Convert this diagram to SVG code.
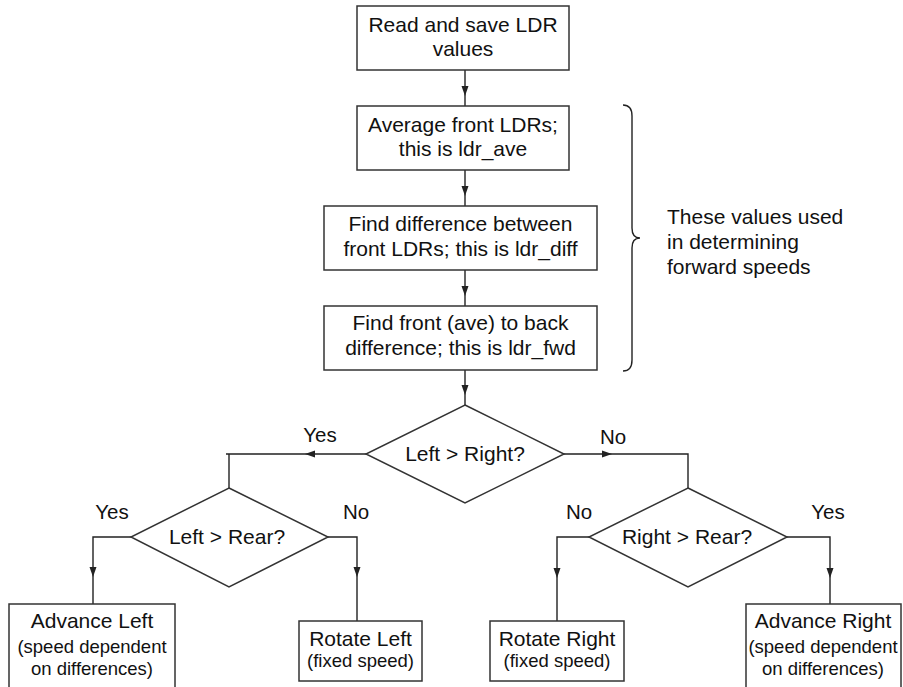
<svg xmlns="http://www.w3.org/2000/svg" xmlns:xlink="http://www.w3.org/1999/xlink" width="903" height="687" viewBox="0 0 903 687">
<style>
  .box { fill: #fff; stroke: #333; stroke-width: 1.5; }
  .line { fill: none; stroke: #222; stroke-width: 1.4; }
  .t { font-family: "Liberation Sans", Arial, sans-serif; font-size: 21px; fill: #111; text-anchor: middle; }
  .s { font-family: "Liberation Sans", Arial, sans-serif; font-size: 18.5px; fill: #111; text-anchor: middle; }
  .lbl { font-family: "Liberation Sans", Arial, sans-serif; font-size: 20.5px; fill: #111; text-anchor: middle; }
  .note { font-family: "Liberation Sans", Arial, sans-serif; font-size: 21px; fill: #111; }
  .ah { fill: #222; }
</style>
<defs>
  <path id="ah" class="ah" d="M0,0 L-3.5,-10 L3.5,-10 Z"/>
</defs>
<rect width="903" height="687" fill="#fff"/>

<g id="connectors">
  <path class="line" d="M465,70 L465,106"/>
  <path class="line" d="M465,170 L465,206"/>
  <path class="line" d="M465,270 L465,306"/>
  <path class="line" d="M465,370 L465,405"/>
  <path class="line" d="M366,454 L226,454 M229,454 L229,488"/>
  <path class="line" d="M564,454 L688,454 L688,488"/>
  <path class="line" d="M131,537 L93,537 L93,604"/>
  <path class="line" d="M328,537 L357,537 L357,621"/>
  <path class="line" d="M589,537 L557,537 L557,621"/>
  <path class="line" d="M787,537 L830,537 L830,604"/>
  <use xlink:href="#ah" transform="translate(465,96)"/>
  <use xlink:href="#ah" transform="translate(465,196)"/>
  <use xlink:href="#ah" transform="translate(465,296)"/>
  <use xlink:href="#ah" transform="translate(465,395)"/>
  <use xlink:href="#ah" transform="translate(305,454) rotate(90)"/>
  <use xlink:href="#ah" transform="translate(612,454) rotate(-90)"/>
  <use xlink:href="#ah" transform="translate(93,577)"/>
  <use xlink:href="#ah" transform="translate(357,577)"/>
  <use xlink:href="#ah" transform="translate(557,578)"/>
  <use xlink:href="#ah" transform="translate(830,578)"/>
  <text class="lbl" x="320" y="442">Yes</text>
  <text class="lbl" x="613" y="444">No</text>
  <text class="lbl" x="112" y="519">Yes</text>
  <text class="lbl" x="356" y="519">No</text>
  <text class="lbl" x="579" y="519">No</text>
  <text class="lbl" x="828" y="519">Yes</text>
</g>

<g id="read">
  <rect class="box" x="357" y="6" width="212" height="64"/>
  <text class="t" x="463" y="32">Read and save LDR</text>
  <text class="t" x="463" y="56">values</text>
</g>
<g id="average">
  <rect class="box" x="357" y="106" width="212" height="64"/>
  <text class="t" x="463" y="132">Average front LDRs;</text>
  <text class="t" x="463" y="156">this is ldr_ave</text>
</g>
<g id="diff">
  <rect class="box" x="324" y="206" width="273" height="64"/>
  <text class="t" x="460.5" y="231">Find difference between</text>
  <text class="t" x="460.5" y="256">front LDRs; this is ldr_diff</text>
</g>
<g id="fwd">
  <rect class="box" x="324" y="306" width="273" height="64"/>
  <text class="t" x="460.5" y="330">Find front (ave) to back</text>
  <text class="t" x="460.5" y="355">difference; this is ldr_fwd</text>
</g>
<g id="brace">
  <path class="line" d="M623,105 Q632,105 632,116 L632,228 Q632,238 640,238 Q632,238 632,248 L632,360 Q632,371 623,371"/>
  <text class="note" x="667" y="224">These values used</text>
  <text class="note" x="667" y="249">in determining</text>
  <text class="note" x="667" y="274">forward speeds</text>
</g>
<g id="leftRight">
  <polygon class="box" points="465,405 564,454 465,503 366,454"/>
  <text class="t" x="465" y="461">Left &gt; Right?</text>
</g>
<g id="leftRear">
  <polygon class="box" points="229,488 328,537 229,587 131,537"/>
  <text class="t" x="227" y="544">Left &gt; Rear?</text>
</g>
<g id="rightRear">
  <polygon class="box" points="688,488 787,537 688,587 589,537"/>
  <text class="t" x="687" y="544">Right &gt; Rear?</text>
</g>
<g id="advanceLeft">
  <rect class="box" x="9" y="604" width="166" height="100"/>
  <text class="t" x="92" y="628">Advance Left</text>
  <text class="s" x="92" y="653">(speed dependent</text>
  <text class="s" x="92" y="675">on differences)</text>
</g>
<g id="rotateLeft">
  <rect class="box" x="299" y="621" width="123" height="60"/>
  <text class="t" x="360.5" y="646">Rotate Left</text>
  <text class="s" x="360.5" y="667">(fixed speed)</text>
</g>
<g id="rotateRight">
  <rect class="box" x="490" y="621" width="134" height="60"/>
  <text class="t" x="557" y="646">Rotate Right</text>
  <text class="s" x="557" y="667">(fixed speed)</text>
</g>
<g id="advanceRight">
  <rect class="box" x="746" y="604" width="155" height="100"/>
  <text class="t" x="823" y="628">Advance Right</text>
  <text class="s" x="823" y="653">(speed dependent</text>
  <text class="s" x="823" y="675">on differences)</text>
</g>
</svg>
